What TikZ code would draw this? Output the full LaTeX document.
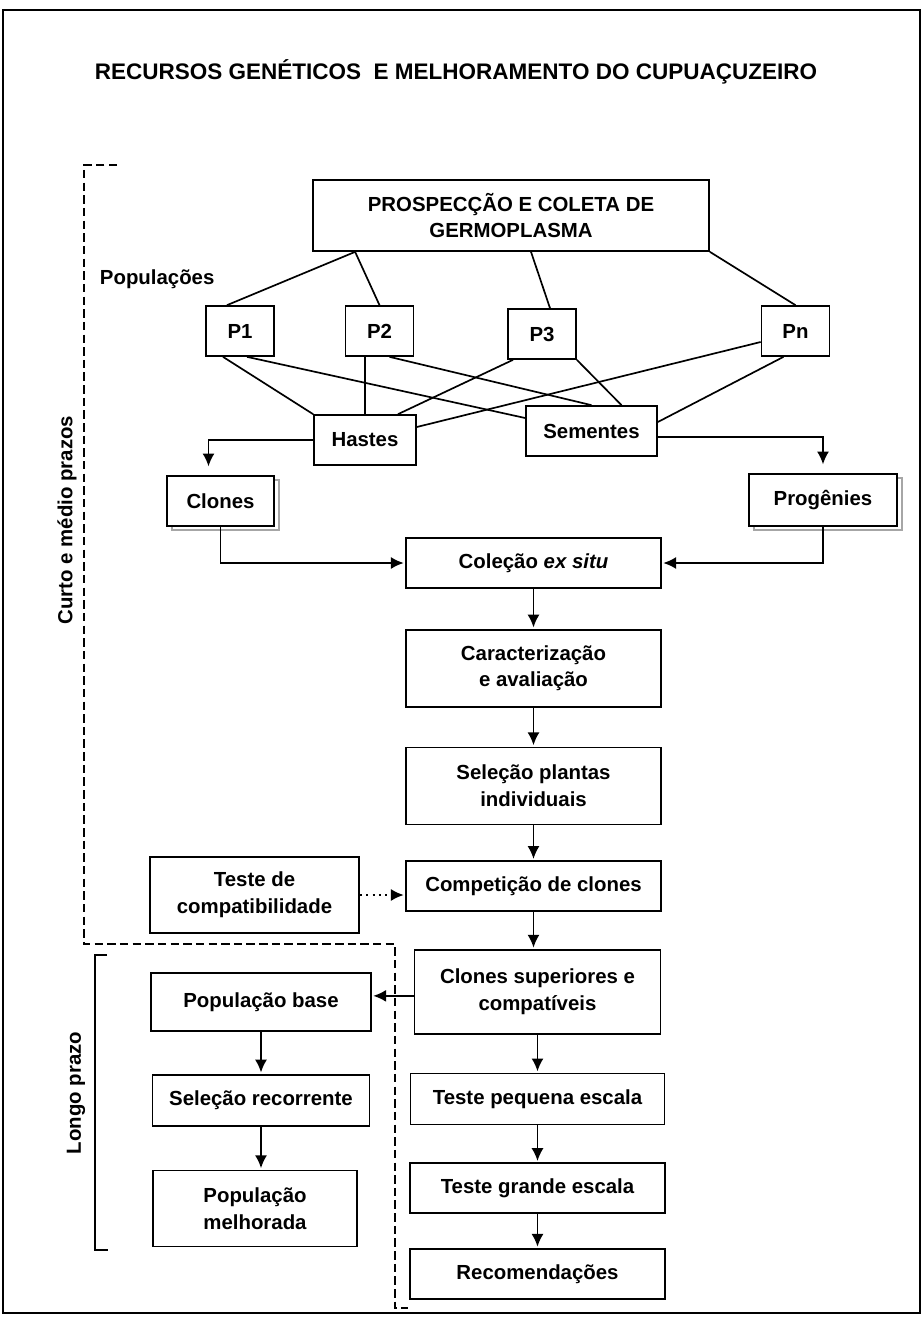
\documentclass[tikz,border=0pt]{standalone}
\usepackage{fontspec}
\setmainfont{Liberation Sans}
\usepackage{tikz}
\usetikzlibrary{arrows.meta, positioning, shadows}

\begin{document}
\begin{tikzpicture}[x=0.025cm, y=-0.025cm, >={Latex[length=3.2mm,width=3mm]}]
 % We define the styles for the boxes, the lines and the arrows
 \tikzset{
block/.style = {draw, rectangle, line width=1.2pt, fill=white, align=center, inner sep=2pt, font=\fontsize{14.5}{19}\selectfont\bfseries},
pop/.style = {block, minimum width=1.7cm, minimum height=1.25cm},
shadowed/.style = {block, copy shadow={shadow xshift=0.12cm, shadow yshift=-0.1cm, draw=gray!70, fill=white, line width=1.2pt}},
link/.style = {draw, line width=1.2pt},
line/.style = {draw, ->, line width=1.2pt, shorten >=1pt},
bracket/.style = {line width=1.2pt, dash pattern=on 6pt off 3pt},
label/.style = {font=\fontsize{14.5}{19}\selectfont\bfseries},
}

 % Page frame and title
 \useasboundingbox (0,0) rectangle (923,1318);
 \draw[line width=1.2pt] (3,10) rectangle (920,1313);
 \node[font=\fontsize{16}{19}\selectfont\bfseries] (title) at (456,72) {RECURSOS GENÉTICOS\ \ E MELHORAMENTO DO CUPUAÇUZEIRO};

 % Germplasm collection block
 \node [block, minimum width=9.9cm, minimum height=1.775cm] (prosp) at (511,215.5) {PROSPECÇÃO E COLETA DE\\GERMOPLASMA};
 \node [label, anchor=west] (poplabel) at (95,279) {Populações};

 % Populations
 \node [pop] (p1) at (240,331) {P1};
 \node [pop] (p2) at (379.5,331) {P2};
 \node [pop] (p3) at (542,334) {P3};
 \node [pop] (pn) at (795.5,331) {Pn};

 % Propagation material
 \node [block, minimum width=2.55cm, minimum height=1.25cm] (hastes) at (365,440) {Hastes};
 \node [block, minimum width=3.275cm, minimum height=1.25cm] (sementes) at (591.5,431) {Sementes};

 % Clones and progenies
 \node [shadowed, minimum width=2.675cm, minimum height=1.25cm] (clones) at (220.5,501) {Clones};
 \node [shadowed, minimum width=3.7cm, minimum height=1.3cm] (progenies) at (823,500) {Progênies};

 % Main column
 \node [block, minimum width=6.375cm, minimum height=1.25cm] (colecao) at (533.5,563) {Coleção \textit{ex situ}};
 \node [block, minimum width=6.375cm, minimum height=1.925cm, below=1cm of colecao] (caract) {Caracterização\\e avaliação};
 \node [block, minimum width=6.375cm, minimum height=1.925cm, below=0.975cm of caract] (selecao) {Seleção plantas\\individuais};
 \node [block, minimum width=6.375cm, minimum height=1.25cm, below=0.875cm of selecao] (compet) {Competição de clones};
 \node [block, minimum width=6.15cm, minimum height=2.1cm, below=0.925cm of compet, xshift=0.1cm] (superiores) {Clones superiores e\\compatíveis};
 \node [block, minimum width=6.35cm, minimum height=1.275cm, below=0.95cm of superiores] (pequena) {Teste pequena escala};
 \node [block, minimum width=6.375cm, minimum height=1.25cm, below=0.925cm of pequena] (grande) {Teste grande escala};
 \node [block, minimum width=6.375cm, minimum height=1.25cm, below=0.85cm of grande] (recom) {Recomendações};

 % Compatibility test
 \node [block, minimum width=5.225cm, minimum height=1.9cm] (compat) at (254.5,895) {Teste de\\compatibilidade};

 % Long term column
 \node [block, minimum width=5.5cm, minimum height=1.45cm] (popbase) at (261,1002) {População base};
 \node [block, minimum width=5.425cm, minimum height=1.275cm, below=1.05cm of popbase] (recorrente) {Seleção recorrente};
 \node [block, minimum width=5.1cm, minimum height=1.9cm, below=1.075cm of recorrente, xshift=-0.15cm] (melhorada) {População\\melhorada};

 % Lines from the collection to the populations
 \draw [link] ([xshift=1.075cm]prosp.south west) -- ([xshift=-0.325cm]p1.north);
 \draw [link] ([xshift=1.075cm]prosp.south west) -- (p2.north);
 \draw [link] ([xshift=0.5cm]prosp.south) -- ([xshift=0.2cm]p3.north);
 \draw [link] (prosp.south east) -- (pn.north);

 % Lines from the populations to stems and seeds
 \draw [link] ([xshift=-0.425cm]p1.south) -- (hastes.north west);
 \draw [link] ([xshift=0.175cm]p1.south) -- ([yshift=0.325cm]sementes.west);
 \draw [link] (hastes.north) -- (hastes.north |- p2.south);
 \draw [link] ([xshift=0.25cm]p2.south) -- (sementes.north);
 \draw [link] ([xshift=-0.725cm]p3.south) -- ([xshift=0.825cm]hastes.north);
 \draw [link] (p3.south east) -- ([xshift=0.75cm]sementes.north);
 \draw [link] ([yshift=-0.275cm]pn.west) -- ([yshift=0.325cm]hastes.east);
 \draw [link] ([xshift=-0.3cm]pn.south) -- ([yshift=0.225cm]sementes.east);

 % Arrows to clones, progenies and the collection
 \draw [line, shorten >=0.22cm] (hastes.west) -| ([xshift=-0.3cm]clones.north);
 \draw [line, shorten >=0.22cm] ([yshift=-0.15cm]sementes.east) -| (progenies.north);
 \draw [line] (clones.south) |- (colecao.west);
 \draw [line] (progenies.south) |- (colecao.east);

 % Arrows down the main column
 \draw [line] (colecao.south) -- (colecao.south |- caract.north);
 \draw [line] (caract.south) -- (caract.south |- selecao.north);
 \draw [line] (selecao.south) -- (selecao.south |- compet.north);
 \draw [line] (compet.south) -- (compet.south |- superiores.north);
 \draw [line] (superiores.south) -- (superiores.south |- pequena.north);
 \draw [line] (pequena.south) -- (pequena.south |- grande.north);
 \draw [line] (grande.south) -- (grande.south |- recom.north);
 \draw [line, dash pattern=on 1.5pt off 3pt] (compat.east) -- (compat.east -| compet.west);

 % Arrows down the long term column
 \draw [line] ([yshift=-0.1cm]superiores.west) -- ([yshift=-0.1cm]superiores.west -| popbase.east);
 \draw [line] (popbase.south) -- (popbase.south |- recorrente.north);
 \draw [line] (recorrente.south) -- (recorrente.south |- melhorada.north);

 % Term brackets
 \draw [bracket] (117,165) -- (84,165) -- (84,944) -- (395,944) -- (395,1308) -- (408,1308);
 \node [label, rotate=90] (curto) at (67,520) {Curto e médio prazos};
 \draw [line width=1.2pt] (107,955) -- (95,955) -- (95,1250) -- (108,1250);
 \node [label, rotate=90] (longo) at (76,1093) {Longo prazo};

\end{tikzpicture}
\end{document}
